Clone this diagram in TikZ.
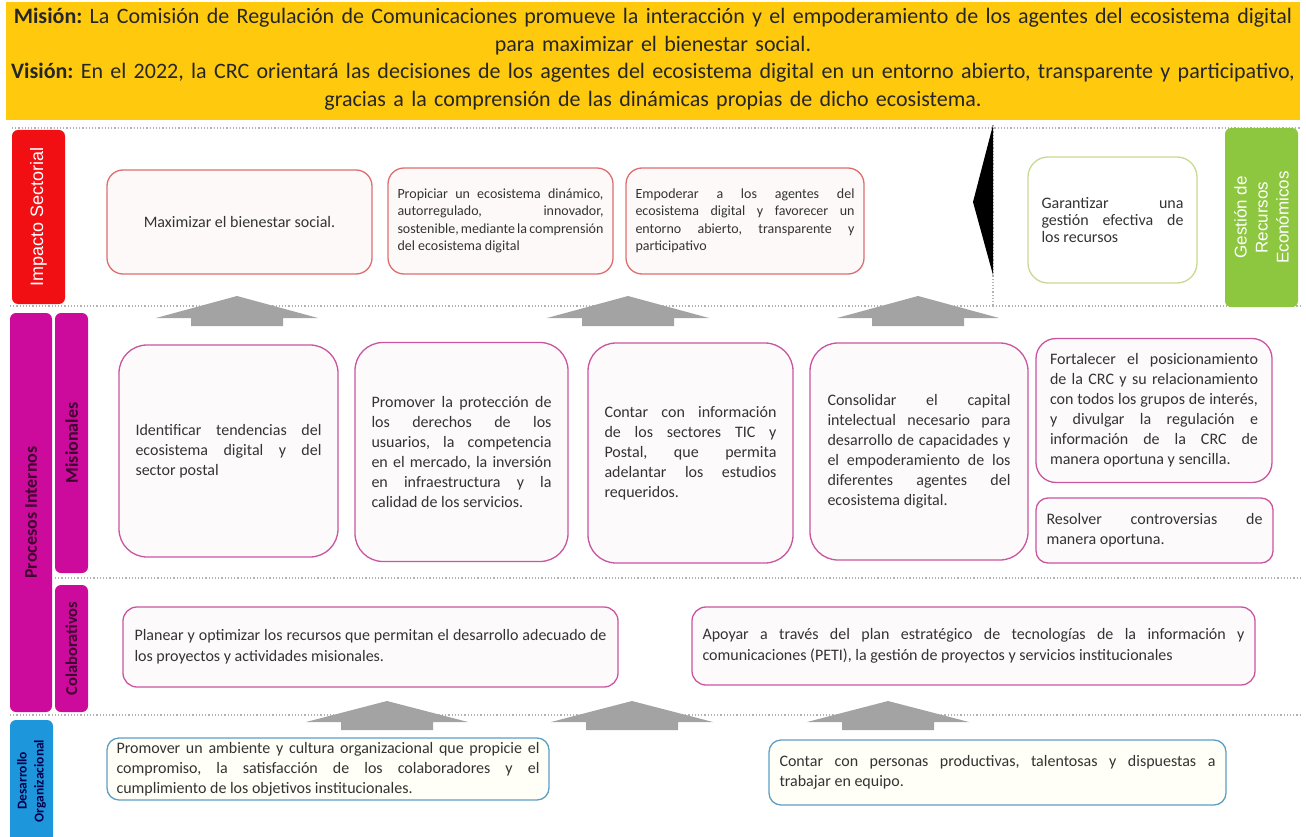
\documentclass[tikz,border=0pt]{standalone}
\usepackage{fontspec}
\setmainfont{Carlito}
\newfontfamily\arialfont{Liberation Sans}
\frenchspacing
\definecolor{bannergold}{HTML}{FFC90E}
\definecolor{impactored}{HTML}{F20F14}
\definecolor{impactoline}{HTML}{DE6E6E}
\definecolor{procmag}{HTML}{CC0A9C}
\definecolor{procline}{HTML}{C9559F}
\definecolor{desblue}{HTML}{1E96DC}
\definecolor{desline}{HTML}{5C9FC6}
\definecolor{gestgreen}{HTML}{8DC63F}
\definecolor{gestline}{HTML}{C8DA90}
\definecolor{arrowgray}{HTML}{A3A3A3}
\begin{document}
\begin{tikzpicture}[x=1pt,y=-1pt,
  sep/.style={draw=gray!60, dotted, line width=1.2pt},
  tag/.style={rotate=90, rounded corners=6pt, inner sep=0pt, align=center},
  goal/.style={draw, line width=1.3pt, inner sep=0pt, align=justify, text=black!80,
    font=\fontsize{16}{20}\selectfont},
  impgoal/.style={goal, draw=impactoline, fill=impactoline!4, rounded corners=16pt,
    font=\fontsize{14}{17.5}\selectfont},
  misgoal/.style={goal, draw=procline, fill=procline!3},
  desgoal/.style={goal, draw=desline, fill=yellow!3, rounded corners=12pt},
  gestgoal/.style={goal, draw=gestline, fill=white, rounded corners=20pt}]
\useasboundingbox (0,0) rectangle (1306,837);
% mision y vision
\fill[bannergold] (6,2) rectangle (1300,120);
\node[font=\fontsize{22}{27.5}\selectfont, text width=1400pt, align=center, inner sep=0pt,
  text=black!85] (banner) at (653,59)
  {{\bfseries Misión:} La Comisión de Regulación de Comunicaciones promueve la interacción y el empoderamiento de los agentes del ecosistema digital\\
   para maximizar el bienestar social.\\
   {\bfseries Visión:} En el 2022, la CRC orientará las decisiones de los agentes del ecosistema digital en un entorno abierto, transparente y participativo,\\
   gracias a la comprensión de las dinámicas propias de dicho ecosistema.};
% separadores
\draw[sep] (12,128) -- (1300,128);
\draw[sep] (10,306) -- (1300,306);
\draw[sep] (55,578) -- (1300,578);
\draw[sep] (10,715) -- (1300,715);
\draw[sep] (993,125) -- (993,306);
\fill[black] (993,125) -- (973,202) -- (993,275) -- cycle;
% perspectivas
\node[tag, fill=impactored, text=white, font=\arialfont\fontsize{18}{21}\selectfont,
  minimum width=174pt, minimum height=53pt] (impacto) at (38.5,217) {Impacto Sectorial};
\node[tag, fill=procmag, text=black!70!procmag, font=\bfseries\fontsize{18}{21}\selectfont,
  minimum width=399pt, minimum height=42pt] (procesos) at (31,512.5) {Procesos Internos};
\node[tag, fill=procmag, text=black!70!procmag, font=\bfseries\fontsize{18}{21}\selectfont,
  minimum width=260pt, minimum height=33pt] (misionales) at (71.5,443) {Misionales};
\node[tag, fill=procmag, text=black!70!procmag, font=\bfseries\fontsize{16.5}{20}\selectfont,
  minimum width=127pt, minimum height=33pt] (colab) at (71.5,648.5) {Colaborativos};
\node[tag, fill=desblue, text=black!70!blue, font=\bfseries\fontsize{13.5}{17}\selectfont,
  minimum width=122pt, minimum height=43pt] (desarrollo) at (31.5,781) {Desarrollo\\Organizacional};
\node[tag, fill=gestgreen, text=white, font=\arialfont\fontsize{17}{21}\selectfont,
  minimum width=179pt, minimum height=73pt] (gestion) at (1261.5,217.5) {Gestión de\\Recursos\\Económicos};
% impacto sectorial
\node[impgoal, font=\fontsize{16}{20}\selectfont, align=center, minimum width=265pt,
  minimum height=104pt] (bienestar) at (239.5,222) {Maximizar el bienestar social.};
\node[impgoal, text width=206pt, minimum width=225pt, minimum height=106pt] (propiciar) at (500.5,221)
  {Propiciar un ecosistema dinámico,\linebreak autorregulado, innovador,\linebreak sostenible, mediante la comprensión\linebreak del ecosistema digital};
\node[impgoal, text width=219pt, minimum width=238pt, minimum height=106pt] (empoderar) at (745,221)
  {Empoderar a los agentes del\linebreak ecosistema digital y favorecer un\linebreak entorno abierto, transparente y\linebreak participativo};
\node[gestgoal, font=\fontsize{16}{17}\selectfont, text width=142pt, minimum width=169pt,
  minimum height=126pt] (garantizar) at (1112.5,220)
  {Garantizar una\linebreak gestión efectiva de\linebreak los recursos};
% misionales
\node[misgoal, rounded corners=28pt, text width=186pt, minimum width=219pt, minimum height=212pt] (tendencias) at (228.5,451)
  {Identificar tendencias del\linebreak ecosistema digital y del\linebreak sector postal};
\node[misgoal, rounded corners=28pt, text width=180pt, minimum width=213pt, minimum height=219pt] (proteccion) at (461.5,452)
  {Promover la protección de\linebreak los derechos de los\linebreak usuarios, la competencia\linebreak en el mercado, la inversión\linebreak en infraestructura y la\linebreak calidad de los servicios.};
\node[misgoal, rounded corners=28pt, text width=172pt, minimum width=205pt, minimum height=220pt] (informacion) at (690.5,453)
  {Contar con información\linebreak de los sectores TIC y\linebreak Postal, que permita\linebreak adelantar los estudios\linebreak requeridos.};
\node[misgoal, rounded corners=28pt, text width=183pt, minimum width=218pt, minimum height=217pt] (capital) at (919,451.5)
  {Consolidar el capital\linebreak intelectual necesario para\linebreak desarrollo de capacidades y\linebreak el empoderamiento de los\linebreak diferentes agentes del\linebreak ecosistema digital.};
\node[misgoal, rounded corners=20pt, text width=208pt, minimum width=236pt, minimum height=144pt] (posicion) at (1154,410.5)
  {Fortalecer el posicionamiento\linebreak de la CRC y su relacionamiento\linebreak con todos los grupos de interés,\linebreak y divulgar la regulación e\linebreak información de la CRC de\linebreak manera oportuna y sencilla.};
\node[misgoal, rounded corners=12pt, text width=216pt, minimum width=237pt, minimum height=65pt] (resolver) at (1154.5,530.5)
  {Resolver controversias de\linebreak manera oportuna.};
% colaborativos
\node[misgoal, rounded corners=14pt, font=\fontsize{16}{21}\selectfont, text width=472pt,
  minimum width=495pt, minimum height=80pt] (planear) at (370.5,647)
  {Planear y optimizar los recursos que permitan el desarrollo adecuado de\linebreak los proyectos y actividades misionales.};
\node[misgoal, rounded corners=14pt, font=\fontsize{16}{21}\selectfont, text width=542pt,
  minimum width=563pt, minimum height=78pt] (peti) at (973.5,646)
  {Apoyar a través del plan estratégico de tecnologías de la información y\linebreak comunicaciones (PETI), la gestión de proyectos y servicios institucionales};
% desarrollo organizacional
\node[desgoal, text width=423pt, minimum width=442pt, minimum height=62pt] (ambiente) at (328,769)
  {Promover un ambiente y cultura organizacional que propicie el\linebreak compromiso, la satisfacción de los colaboradores y el\linebreak cumplimiento de los objetivos institucionales.};
\node[desgoal, text width=436pt, minimum width=457pt, minimum height=65pt] (personas) at (997.5,772.5)
  {Contar con personas productivas, talentosas y dispuestas a\linebreak trabajar en equipo.};
% flechas
\fill[arrowgray] (156,318) -- (237,296) -- (318,318) -- (283,318) -- (283,326) -- (191,326) -- (191,318) -- cycle;
\fill[arrowgray] (547,318) -- (628,296) -- (709,318) -- (674,318) -- (674,326) -- (582,326) -- (582,318) -- cycle;
\fill[arrowgray] (837,318) -- (918,296) -- (999,318) -- (964,318) -- (964,326) -- (872,326) -- (872,318) -- cycle;
\fill[arrowgray] (306,722) -- (387,701) -- (468,722) -- (433,722) -- (433,730) -- (341,730) -- (341,722) -- cycle;
\fill[arrowgray] (551,722) -- (632,701) -- (713,722) -- (678,722) -- (678,730) -- (586,730) -- (586,722) -- cycle;
\fill[arrowgray] (807,722) -- (888,701) -- (969,722) -- (934,722) -- (934,730) -- (842,730) -- (842,722) -- cycle;
\end{tikzpicture}
\end{document}
